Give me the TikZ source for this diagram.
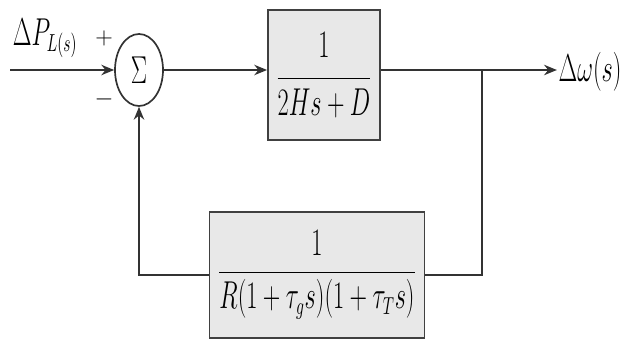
\documentclass[tikz,border=0pt]{standalone}
\usetikzlibrary{shapes.geometric, arrows.meta, positioning}

\newcommand{\tallmath}[1]{\scalebox{1}[1.6]{$\displaystyle #1$}}

\begin{document}
\begin{tikzpicture}[
    x=0.025cm, y=-0.025cm,
    font=\fontsize{16}{19}\selectfont,
    block/.style={rectangle, draw=black!75, line width=1.3pt, fill=black!9, inner sep=0pt},
    sumnode/.style={ellipse, draw=black!80, line width=1.2pt, minimum width=1.2cm,
                    minimum height=1.8cm, inner sep=0pt},
    sign/.style={font=\fontsize{16}{19}\selectfont, inner sep=0pt},
    arrow/.style={-{Stealth[length=3.2mm, width=2.6mm]}, line width=1.2pt, draw=black!80},
    wire/.style={line width=1.2pt, draw=black!80}
]
\useasboundingbox (0,0) rectangle (624,348);

\node[sumnode] (sum) at (139,70) {\tallmath{\Sigma}};
\node[block, minimum width=2.8cm, minimum height=3.25cm] (plant) at (324,75)
    {\tallmath{\frac{1\rule[-8pt]{0pt}{8pt}}{2Hs+D}}};
\node[block, minimum width=5.375cm, minimum height=3.15cm] (gov) at (317,275)
    {\tallmath{\frac{1\rule[-5pt]{0pt}{5pt}}{R(1+\tau_g s)(1+\tau_T s)}}};

\coordinate (in) at (10,70);
\coordinate (br) at (482,70);
\node[inner sep=1pt] (out) at (590,72) {\tallmath{\Delta\omega(s)}};
\node[inner sep=0pt] (dp) at (45,38) {\tallmath{\Delta P_{L(s)}}};
\node[sign] (plus) at (104,38) {$+$};
\node[sign] (minus) at (104,99) {$-$};

\draw[arrow] (in) -- (sum.west);
\draw[arrow] (sum.east) -- (sum.east -| plant.west);
\draw[wire] (plant.east |- br) -- (br);
\draw[arrow] (br) -- (br -| out.west);
\draw[wire] (br) |- (gov.east);
\draw[arrow] (gov.west) -| (sum.south);
\end{tikzpicture}
\end{document}
